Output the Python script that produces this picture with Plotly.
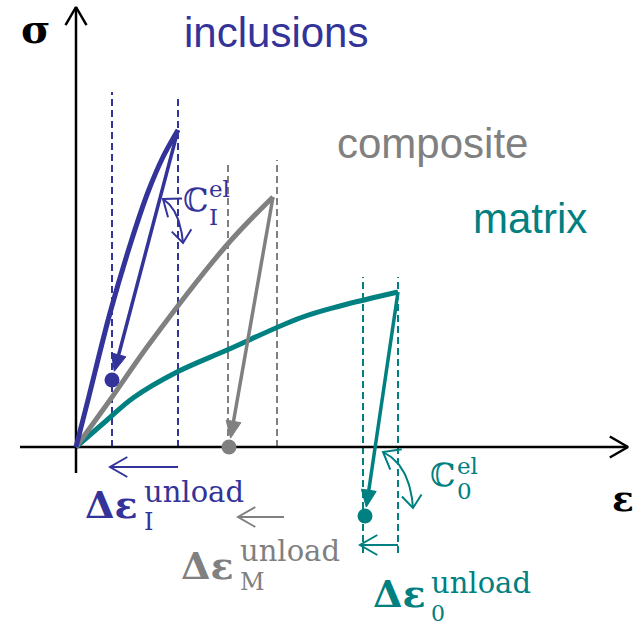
import numpy as np
import plotly.graph_objects as go

# ---- stress-strain paths (strain, stress in arbitrary units) ----
incl_eps = [0.0, 0.12, 0.34, 0.55, 0.72, 0.87, 1.02]
incl_sig = [0.0, 0.47, 1.34, 2.05, 2.55, 2.90, 3.17]
incl_unload_eps = [1.02, 0.36]
incl_unload_sig = [3.17, 0.67]

comp_eps = [0.0, 0.34, 0.74, 1.50, 1.97]
comp_sig = [0.0, 0.47, 1.04, 2.01, 2.50]
comp_unload_eps = [1.97, 1.53]
comp_unload_sig = [2.50, 0.0]

mat_eps = [0.0, 0.30, 0.57, 1.01, 1.51, 2.24, 2.64, 3.22]
mat_sig = [0.0, 0.26, 0.49, 0.75, 0.97, 1.29, 1.41, 1.55]
mat_unload_eps = [3.22, 2.89]
mat_unload_sig = [1.55, -0.69]

# reference lines: (strain, bottom, top)
incl_guides = [(0.36, 0.0, 3.55), (1.02, 0.0, 3.52)]
comp_guides = [(1.52, 0.0, 2.84), (2.01, 0.0, 2.87)]
mat_guides = [(2.87, -1.06, 1.70), (3.22, -1.06, 1.70)]

# unloading strain increments: (from, to, level)
incl_delta = (1.02, 0.34, -0.20)
comp_delta = (2.08, 1.62, -0.70)
mat_delta = (3.22, 2.84, -0.98)

# elastic stiffness arcs: start, control, end
incl_arc = [(0.87, 2.48), (1.04, 2.37), (1.07, 2.04)]
mat_arc = [(3.07, -0.05), (3.34, -0.18), (3.37, -0.61)]

# axes extents
x_axis = (-0.56, 5.52)
y_axis = (-0.26, 4.40)

BLUE = "#333399"
GRAY = "#808080"
TEAL = "#008080"
BLACK = "#000000"

fig = go.Figure()


def add_line(xs, ys, color, width, dash="solid", shape="linear"):
    fig.add_trace(go.Scatter(x=list(xs), y=list(ys), mode="lines",
                             line=dict(color=color, width=width, dash=dash, shape=shape, smoothing=1.0),
                             hoverinfo="skip", showlegend=False))


def chevron(tip, tail, color, width, length=0.20, half_angle=30):
    tx, ty = tip
    dx, dy = tail[0] - tx, tail[1] - ty
    n = np.hypot(dx, dy)
    dx, dy = dx / n, dy / n
    a = np.radians(half_angle)
    pts = []
    for s in (1, -1):
        c, sn = np.cos(s * a), np.sin(s * a)
        pts.append((tx + length * (dx * c - dy * sn), ty + length * (dx * sn + dy * c)))
    add_line([pts[0][0], tx, pts[1][0]], [pts[0][1], ty, pts[1][1]], color, width)


def filled_head(tip, tail, color, length=0.17, half_width=0.075):
    tx, ty = tip
    dx, dy = tail[0] - tx, tail[1] - ty
    n = np.hypot(dx, dy)
    dx, dy = dx / n, dy / n
    bx, by = tx + length * dx, ty + length * dy
    px, py = -dy, dx
    xs = [tx, bx + half_width * px, bx - half_width * px, tx]
    ys = [ty, by + half_width * py, by - half_width * py, ty]
    fig.add_trace(go.Scatter(x=xs, y=ys, mode="lines", fill="toself", fillcolor=color,
                             line=dict(color=color, width=1), hoverinfo="skip", showlegend=False))


def unload_arrow(ex, ey, color):
    start = (ex[0], ey[0])
    end = (ex[1], ey[1])
    dx, dy = end[0] - start[0], end[1] - start[1]
    n = np.hypot(dx, dy)
    tip = (end[0] - 0.09 * dx / n, end[1] - 0.09 * dy / n)
    add_line([start[0], tip[0] - 0.12 * dx / n], [start[1], tip[1] - 0.12 * dy / n], color, 3.5)
    filled_head(tip, start, color)
    fig.add_trace(go.Scatter(x=[end[0]], y=[end[1]], mode="markers",
                             marker=dict(color=color, size=15), hoverinfo="skip", showlegend=False))


def arc(ctrl, color):
    p0, p1, p2 = [np.array(p) for p in ctrl]
    t = np.linspace(0, 1, 40)[:, None]
    pts = (1 - t) ** 2 * p0 + 2 * (1 - t) * t * p1 + t ** 2 * p2
    add_line(pts[:, 0], pts[:, 1], color, 2)
    chevron(tuple(p0), tuple(pts[4]), color, 2, length=0.19, half_angle=38)
    chevron(tuple(p2), tuple(pts[-5]), color, 2, length=0.16, half_angle=38)


# guide lines
for guides, col in ((incl_guides, BLUE), (comp_guides, GRAY), (mat_guides, TEAL)):
    for x, lo, hi in guides:
        add_line([x, x], [lo, hi], col, 2, dash="7px,4px")

# axes
add_line([x_axis[0], x_axis[1]], [0, 0], BLACK, 2.5)
add_line([0, 0], [y_axis[0], y_axis[1]], BLACK, 2.5)
chevron((x_axis[1], 0), (x_axis[0], 0), BLACK, 2.5, length=0.21)
chevron((0, y_axis[1]), (0, y_axis[0]), BLACK, 2.5, length=0.21)

# loading paths
add_line(mat_eps, mat_sig, TEAL, 5, shape="spline")
add_line(comp_eps, comp_sig, GRAY, 5, shape="spline")
add_line(incl_eps, incl_sig, BLUE, 5, shape="spline")

# unloading paths
unload_arrow(comp_unload_eps, comp_unload_sig, GRAY)
unload_arrow(mat_unload_eps, mat_unload_sig, TEAL)
unload_arrow(incl_unload_eps, incl_unload_sig, BLUE)

# strain increments
for (x0, x1, y), col in ((incl_delta, BLUE), (comp_delta, GRAY), (mat_delta, TEAL)):
    add_line([x0, x1], [y, y], col, 2)
    chevron((x1, y), (x0, y), col, 2, length=0.20)

# stiffness arcs
arc(incl_arc, BLUE)
arc(mat_arc, TEAL)

SERIF = "DejaVu Serif"
SANS = "Liberation Sans, Arial"


def label(x, y, text, color, size, family, xanchor="center", bold=False):
    if bold:
        text = "<b>" + text + "</b>"
    fig.add_annotation(x=x, y=y, xref="x", yref="y", text=text, showarrow=False,
                       xanchor=xanchor, yanchor="middle",
                       font=dict(color=color, size=size, family=family))


label(2.00, 4.15, "inclusions", BLUE, 42, SANS)
label(3.56, 3.04, "composite", GRAY, 42, SANS)
label(4.54, 2.29, "matrix", TEAL, 42, SANS)
label(-0.40, 4.19, "σ", BLACK, 40, SERIF, bold=True)
label(5.47, -0.51, "ε", BLACK, 36, SERIF, bold=True)

# unloading strain labels: base, superscript, subscript
for (bx, by, sx, sy, dy2, sub, sub_size, col) in (
        (0.64, -0.57, 0.66, -0.45, -0.75, "I", 24, BLUE),
        (1.60, -1.18, 1.62, -1.04, -1.35, "M", 24, GRAY),
        (3.52, -1.46, 3.53, -1.36, -1.66, "0", 22, TEAL)):
    label(bx, by, "Δε", col, 38, SERIF, xanchor="right", bold=True)
    label(sx, sy, "unload", col, 29, SERIF, xanchor="left")
    label(sx, dy2, sub, col, sub_size, SERIF, xanchor="left")

# stiffness labels
for (cx, cy, sx, sy, dy2, sub, col) in (
        (1.19, 2.47, 1.31, 2.58, 2.30, "I", BLUE),
        (3.66, -0.28, 3.79, -0.19, -0.44, "0", TEAL)):
    label(cx, cy, "ℂ", col, 32, SERIF)
    label(sx, sy, "el", col, 23, SERIF, xanchor="left")
    label(sx, dy2, sub, col, 23, SERIF, xanchor="left")

fig.update_layout(
    width=640, height=628,
    margin=dict(l=0, r=0, t=0, b=0),
    paper_bgcolor="white", plot_bgcolor="white",
    xaxis=dict(range=[-0.76, 5.64], visible=False, fixedrange=True),
    yaxis=dict(range=[-1.81, 4.47], visible=False, fixedrange=True),
    showlegend=False,
)

fig.write_html("out.html", config={"displayModeBar": False})
